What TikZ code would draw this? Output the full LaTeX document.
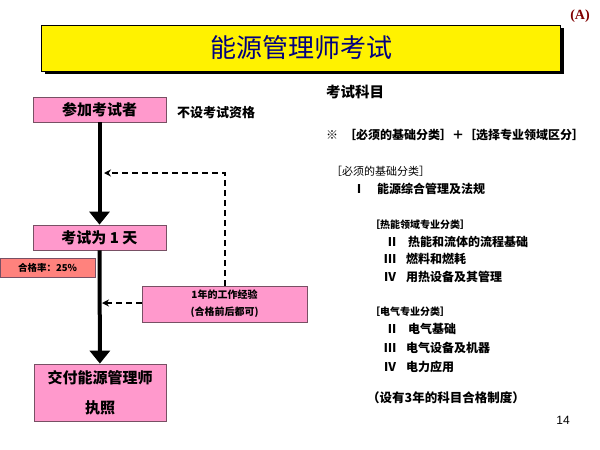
\documentclass[tikz,border=0pt]{standalone}
\usepackage{fontspec}
\setmainfont{Noto Sans CJK SC}
\newfontfamily\serifmark{Liberation Serif}
\newfontfamily\pagefont{Liberation Sans}
\usetikzlibrary{arrows.meta,shadows}
\definecolor{boxPink}{RGB}{255,153,204}
\definecolor{boxSalmon}{RGB}{255,130,125}
\definecolor{boxEdge}{RGB}{120,80,100}
\definecolor{titleBlue}{RGB}{0,0,128}
\definecolor{markRed}{RGB}{128,0,0}

\tikzset{
  pinkbox/.style={draw=boxEdge, fill=boxPink, thick, align=center, inner sep=0pt, font=\bfseries},
  flow/.style={line width=4pt, -{Triangle[width=20pt,length=13pt]}},
  loopback/.style={line width=1.5pt, dash pattern=on 6pt off 4pt, -{Stealth[length=7pt,width=7pt]}},
  subject/.style={anchor=west, inner sep=0pt, font=\bfseries\fontsize{12}{14}\selectfont},
}

\begin{document}
\begin{tikzpicture}[x=1pt, y=-1pt]
  \useasboundingbox (0,0) rectangle (600,450);

  \node[draw, thick, fill=yellow, minimum width=519, minimum height=46,
        drop shadow={shadow xshift=3pt, shadow yshift=-3pt, fill=black, opacity=1},
        text=titleBlue, font=\fontsize{26}{30}\selectfont] (title) at (301,48) {能源管理师考试};
  \node[text=markRed, font=\serifmark\bfseries\fontsize{14}{16}\selectfont] (mark) at (580,16) {(A)};

  \node[pinkbox, minimum width=133, minimum height=25, font=\bfseries\fontsize{15}{18}\selectfont] (entry) at (99.5,109.5) {参加考试者};
  \node[anchor=west, inner sep=0pt, font=\bfseries\fontsize{13}{15}\selectfont] (noreq) at (177,113) {不设考试资格};
  \node[pinkbox, minimum width=133, minimum height=25, font=\bfseries\fontsize{15}{18}\selectfont] (exam) at (99.5,237.5) {考试为 1 天};
  \node[pinkbox, fill=boxSalmon, minimum width=95, minimum height=19, font=\bfseries\fontsize{9.5}{11}\selectfont] (rate) at (47.5,267.5) {合格率：25\%};
  \node[pinkbox, minimum width=165, minimum height=36, font=\bfseries\fontsize{10}{17}\selectfont] (work) at (224.5,304) {1年的工作经验\\(合格前后都可)};
  \node[pinkbox, minimum width=132, minimum height=57, font=\bfseries\fontsize{15}{30}\selectfont] (license) at (100,392.5) {交付能源管理师\\执照};

  \draw[flow] (entry) -- (exam);
  \draw[flow] (exam) -- (license);

  \coordinate (turn) at (225,173);
  \coordinate (hook) at (104,173);
  \coordinate (hook2) at (102,303);
  \draw[loopback] (work.north -| turn) -- (turn) -- (hook);
  \draw[loopback] (work.west |- hook2) -- (hook2);

  \node[anchor=west, inner sep=0pt, font=\bfseries\fontsize{14.5}{17}\selectfont] (subjects) at (326,92) {考试科目};
  \node[subject] (formula) at (326,135) {※\hspace{6pt}［必须的基础分类］＋［选择专业领域区分］};
  \node[anchor=west, inner sep=0pt, font=\fontsize{11}{13}\selectfont] (basic) at (331,171) {［必须的基础分类］};
  \node[subject] (s1) at (353,189) {Ⅰ\hspace{12pt}能源综合管理及法规};
  \node[anchor=west, inner sep=0pt, font=\bfseries\fontsize{10}{12}\selectfont] (heat) at (370,225) {［热能领域专业分类］};
  \node[subject] (h2) at (386,242) {Ⅱ\hspace{10pt}热能和流体的流程基础};
  \node[subject] (h3) at (384,259) {Ⅲ\hspace{10pt}燃料和燃耗};
  \node[subject] (h4) at (384,277) {Ⅳ\hspace{10pt}用热设备及其管理};
  \node[anchor=west, inner sep=0pt, font=\bfseries\fontsize{10}{12}\selectfont] (elec) at (370,312) {［电气专业分类］};
  \node[subject] (e2) at (386,329) {Ⅱ\hspace{10pt}电气基础};
  \node[subject] (e3) at (384,348) {Ⅲ\hspace{10pt}电气设备及机器};
  \node[subject] (e4) at (384,367) {Ⅳ\hspace{10pt}电力应用};
  \node[anchor=west, inner sep=0pt, font=\bfseries\fontsize{12.5}{15}\selectfont] (credit) at (367,398) {（设有3年的科目合格制度）};
  \node[font=\pagefont\fontsize{12}{14}\selectfont] (page) at (563,420) {14};
\end{tikzpicture}
\end{document}
